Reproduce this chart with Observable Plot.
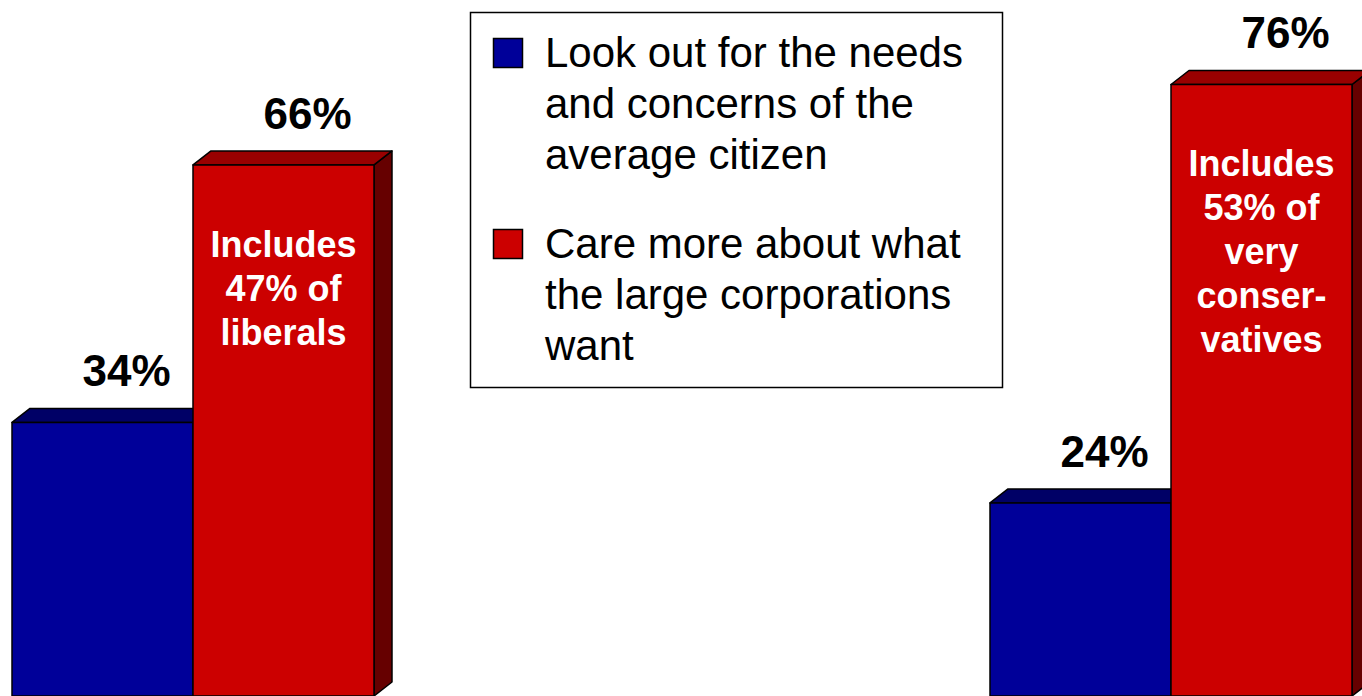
<!DOCTYPE html>
<html><head><meta charset="utf-8">
<script src="https://cdn.jsdelivr.net/npm/d3@7"></script>
<script src="https://cdn.jsdelivr.net/npm/@observablehq/plot@0.6"></script>
<style>
html,body{margin:0;padding:0;background:#fff;overflow:hidden}
#chart svg{display:block}
</style>
</head><body><div id="chart"></div>
<script>
// ---- data ----
const groups = ["Liberals", "Conservatives"];
const seriesNames = [
  "Look out for the needs and concerns of the average citizen",
  "Care more about what the large corporations want"
];
const legendLines = [
  ["Look out for the needs", "and concerns of the", "average citizen"],
  ["Care more about what", "the large corporations", "want"]
];
const citizenValues = [34, 24];
const corporationValues = [66, 76];
const valueLabels = [["34%", "66%"], ["24%", "76%"]];
const noteLines = [
  ["Includes", "47% of", "liberals"],
  ["Includes", "53% of", "very", "conser-", "vatives"]
];
const frontColors = ["#000099", "#CC0000"];
const topColors = ["#000066", "#990000"];
const sideColors = ["#000044", "#660000"];

const rows = [];
groups.forEach((g, gi) => {
  [citizenValues[gi], corporationValues[gi]].forEach((v, si) => {
    rows.push({group: g, series: seriesNames[si], si, value: v,
      label: valueLabels[gi][si], note: si === 1 ? noteLines[gi] : null});
  });
});

const DX = 18, DY = 14;
const FONT = "Liberation Sans, Arial, Helvetica, sans-serif";

function bars3d(index, scales) {
  const x = scales.x, y = scales.y, color = scales.color;
  const bw = x.bandwidth();
  const sub = bw / seriesNames.length;
  const g = d3.create("svg:g").attr("font-family", FONT);
  const y0 = y(0);
  const bars = g.append("g").attr("stroke", "#000").attr("stroke-width", 1.5).attr("stroke-linejoin", "round");
  for (const d of rows) {
    const x1 = x(d.group) + d.si * sub, x2 = x1 + sub, yt = y(d.value);
    bars.append("path")
      .attr("d", `M${x2},${yt}L${x2 + DX},${yt - DY}L${x2 + DX},${y0 - DY}L${x2},${y0}Z`)
      .attr("fill", sideColors[d.si]);
    bars.append("path")
      .attr("d", `M${x1},${yt}L${x1 + DX},${yt - DY}L${x2 + DX},${yt - DY}L${x2},${yt}Z`)
      .attr("fill", topColors[d.si]);
    bars.append("rect")
      .attr("x", x1).attr("y", yt).attr("width", sub).attr("height", y0 - yt)
      .attr("fill", color(d.series));
  }
  for (const d of rows) {
    const x1 = x(d.group) + d.si * sub, x2 = x1 + sub, yt = y(d.value);
    g.append("text")
      .attr("x", (x1 + x2) / 2 + 24).attr("y", yt - 36)
      .attr("text-anchor", "middle").attr("font-weight", "bold").attr("font-size", 44)
      .attr("fill", "#000").text(d.label);
    if (d.note) {
      d.note.forEach((t, i) => {
        g.append("text")
          .attr("x", (x1 + x2) / 2).attr("y", yt + 92 + i * 44)
          .attr("text-anchor", "middle").attr("font-weight", "bold").attr("font-size", 36)
          .attr("fill", "#fff").text(t);
      });
    }
  }
  // legend
  const lg = g.append("g").attr("text-anchor", "start");
  lg.append("rect").attr("x", 470.5).attr("y", 12.5).attr("width", 532).attr("height", 375)
    .attr("fill", "#fff").attr("stroke", "#000").attr("stroke-width", 1.5);
  const entryTop = [38, 229];
  seriesNames.forEach((s, si) => {
    lg.append("rect").attr("x", 493.5).attr("y", entryTop[si] + 0.5).attr("width", 29).attr("height", 29)
      .attr("fill", color(s)).attr("stroke", "#000").attr("stroke-width", 1.5);
    legendLines[si].forEach((t, i) => {
      lg.append("text").attr("x", 545).attr("y", entryTop[si] + 29 + i * 51)
        .attr("text-anchor", "start")
        .attr("font-size", 42).attr("fill", "#000").text(t);
    });
  });
  return g.node();
}

const chart = Plot.plot({
  width: 1362,
  height: 696,
  marginTop: 0,
  marginBottom: 0,
  marginLeft: 12,
  marginRight: 10,
  x: {type: "band", domain: groups, paddingInner: 0.63, paddingOuter: 0, axis: null},
  y: {domain: [0, 86.5], axis: null},
  color: {domain: seriesNames, range: frontColors},
  style: {fontFamily: FONT, background: "white"},
  marks: [bars3d]
});
document.getElementById("chart").appendChild(chart);
</script>
</body></html>
